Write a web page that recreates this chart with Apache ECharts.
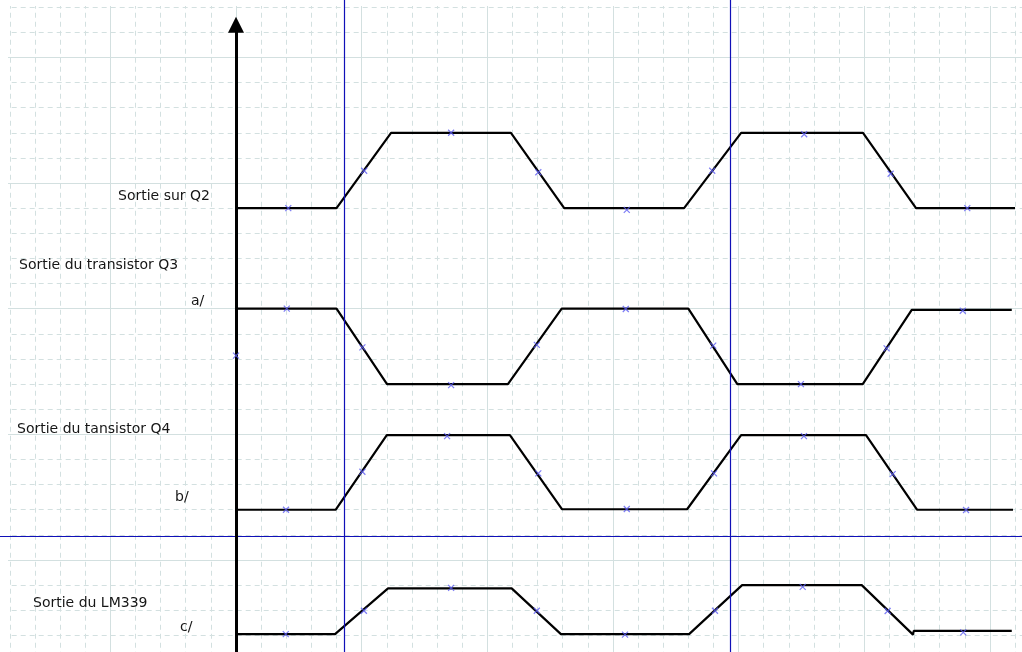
<!DOCTYPE html>
<html>
<head>
<meta charset="utf-8">
<script src="https://cdn.jsdelivr.net/npm/echarts@6/dist/echarts.min.js"></script>
<style>
  html, body { margin: 0; padding: 0; background: #fff; }
  #chart { width: 1022px; height: 652px; }
</style>
</head>
<body>
<div id="chart"></div>
<script>
// waveform vertices (x in grid squares from the vertical axis, y in grid squares)
const q2Line = [[0, 14], [4.0, 14], [6.17, 17], [10.94, 17], [13.06, 14], [17.83, 14], [20.1, 17], [24.95, 17], [27.06, 14], [31.0, 14]];
const q3Line = [[0, 10], [4.0, 10], [6.01, 7], [10.82, 7], [12.96, 10], [18.0, 10], [19.95, 7], [24.94, 7], [26.89, 9.95], [30.87, 9.95]];
const q4Line = [[0, 2], [3.97, 2], [6.0, 4.97], [10.9, 4.97], [12.97, 2.02], [17.95, 2.02], [20.1, 4.97], [25.07, 4.97], [27.1, 2], [30.92, 2]];
const lmLine = [[0, -2.95], [3.94, -2.95], [6.05, -1.13], [10.97, -1.13], [12.93, -2.95], [18.03, -2.95], [20.14, -1.0], [24.9, -1.0], [26.94, -2.97], [26.97, -2.82], [30.87, -2.82]];

// little blue "x" marks
const q2Marks = [[2.08, 14], [5.1, 15.49], [8.56, 17], [12.03, 15.43], [15.55, 13.93], [18.95, 15.49], [22.61, 16.94], [26.05, 15.37], [29.1, 14]];
const q3Marks = [[2.02, 10], [5.03, 8.46], [8.56, 6.96], [11.97, 8.56], [15.51, 9.99], [18.99, 8.53], [22.48, 7.0], [25.89, 8.42], [28.92, 9.92]];
const q4Marks = [[1.99, 2], [5.03, 3.51], [8.4, 4.93], [12.03, 3.45], [15.55, 2.03], [19.02, 3.45], [22.6, 4.93], [26.13, 3.42], [29.05, 1.99]];
const lmMarks = [[1.98, -2.95], [5.09, -2.02], [8.56, -1.11], [11.97, -2.02], [15.48, -2.97], [19.06, -2.02], [22.55, -1.07], [25.93, -2.03], [28.94, -2.88]];
const strayMarks = [[0, 8.13]];

// blue cursors
const cursorX = [4.31, 19.66];
const cursorY = [0.93];

// vertical axis (bottom, arrow end)
const axisEnds = [-4.5, 21.3];

const labels = ['Sortie sur Q2', 'Sortie du transistor Q3', 'a/', 'Sortie du tansistor Q4', 'b/', 'Sortie du LM339', 'c/'];
const labelPos = [[118, 196], [19, 265], [191, 301], [17, 429], [175, 497], [33, 603], [180, 627]];

const gridColor = '#d3e0e0';
const markPath = 'path://M0,0L10,10M10,0L0,10';

let chart = echarts.init(document.getElementById('chart'));

let lineSeries = (data) => ({
  type: 'line',
  data: data,
  symbol: 'none',
  animation: false,
  z: 3,
  lineStyle: { color: '#000', width: 2.2 }
});

let markSeries = (data) => ({
  type: 'scatter',
  data: data,
  symbol: markPath,
  symbolSize: 6,
  animation: false,
  z: 6,
  itemStyle: { color: 'none', borderColor: '#5c5cf2', borderWidth: 1.2 }
});

let axisOpt = (min, max) => ({
  type: 'value',
  min: min,
  max: max,
  interval: 5,
  axisLine: { show: false },
  axisTick: { show: false },
  axisLabel: { show: false },
  splitLine: { show: true, lineStyle: { color: gridColor, width: 1 } },
  minorTick: { show: false, splitNumber: 5 },
  minorSplitLine: { show: true, lineStyle: { color: gridColor, width: 1, type: [5, 4] } }
});

chart.setOption({
  backgroundColor: '#fff',
  animation: false,
  grid: {
    left: -15.3,
    right: -93.55,
    top: -68.25,
    bottom: -33.65,
    outerBoundsMode: 'none'
  },
  xAxis: axisOpt(-10, 35),
  yAxis: axisOpt(-5, 25),
  graphic: [
    { type: 'rect', z: 1, silent: true, shape: { x: 0, y: 0, width: 8, height: 652 }, style: { fill: '#fff' } },
    { type: 'rect', z: 1, silent: true, shape: { x: 0, y: 0, width: 1022, height: 6 }, style: { fill: '#fff' } }
  ].concat(labels.map((t, i) => ({
    type: 'text',
    z: 10,
    x: labelPos[i][0],
    y: labelPos[i][1],
    style: {
      text: t,
      fill: '#161616',
      font: '14px "DejaVu Sans"',
      verticalAlign: 'middle'
    }
  }))),
  series: [
    lineSeries(q2Line),
    lineSeries(q3Line),
    lineSeries(q4Line),
    lineSeries(lmLine),
    markSeries(q2Marks),
    markSeries(q3Marks),
    markSeries(q4Marks),
    markSeries(lmMarks),
    Object.assign(markSeries(strayMarks), {
      markLine: {
        silent: true,
        animation: false,
        symbol: 'none',
        label: { show: false },
        lineStyle: { color: '#1010b8', width: 1.2, type: 'solid' },
        data: cursorX.map(v => ({ xAxis: v })).concat(cursorY.map(v => ({ yAxis: v })))
      }
    }),
    {
      type: 'line',
      data: [],
      z: 5,
      markLine: {
        silent: true,
        animation: false,
        symbol: ['none', 'triangle'],
        symbolSize: 16,
        label: { show: false },
        lineStyle: { color: '#000', width: 3, type: 'solid' },
        data: [[{ coord: [0, axisEnds[0]] }, { coord: [0, axisEnds[1]] }]]
      }
    }
  ]
});
</script>
</body>
</html>
